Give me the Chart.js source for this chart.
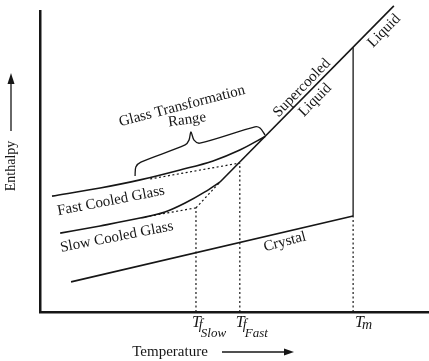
<!DOCTYPE html>
<html>
<head>
<meta charset="utf-8">
<style>
  html, body { margin: 0; padding: 0; background: #fff; }
  canvas { display: block; }
</style>
</head>
<body>
<canvas id="chart" width="429" height="361"></canvas>
<script src="https://cdn.jsdelivr.net/npm/chart.js"></script>
<script>
// values (temperature / enthalpy, arbitrary 0-100 units)
const liquidT = [46.4, 91.2];
const liquidH = [43.2, 101.7];
const liquidExtT = [40.2, 46.4];
const liquidExtH = [34.6, 43.2];

const fastT = [3.1, 15.5, 25.8, 36.1, 44.6, 51.5, 58.0];
const fastH = [38.5, 41.2, 43.9, 47.2, 50.2, 53.8, 58.3];
const fastExtT = [28.4, 51.5];
const fastExtH = [44.2, 49.5];

const slowT = [5.2, 15.5, 25.8, 32.2, 37.4, 42.5, 46.4];
const slowH = [26.2, 28.6, 31.2, 33.2, 36.2, 39.9, 43.2];
const slowExtT = [27.1, 40.2];
const slowExtH = [31.6, 34.6];

const crystalT = [8.0, 80.7];
const crystalH = [10.0, 31.9];

const meltT = [80.7, 80.7];
const meltH = [31.9, 87.9];

const braceT = [24.5, 24.7, 26.0, 37.4, 38.4, 38.9, 39.7, 41.2, 55.4, 56.7, 58.0];
const braceH = [45.2, 48.2, 49.8, 55.5, 57.1, 59.8, 57.1, 56.1, 61.5, 61.1, 58.8];

// tick marks on the temperature axis
const tickT = [40.2, 51.5, 80.7];
const tickTop = [34.6, 49.5, 31.9];
const tickSub = ['f', 'f', 'm'];
const tickSubSub = ['Slow', 'Fast', ''];

const ink = '#161616';
const serif = '"Liberation Serif", "DejaVu Serif", serif';

const pts = (xs, ys) => xs.map((x, i) => ({x: x, y: ys[i]}));

const solid = (data, extra) => Object.assign({
    data: data, borderColor: ink, borderWidth: 1.6, pointRadius: 0,
    showLine: true, fill: false, clip: false
}, extra || {});
const dotted = (data) => solid(data, {borderWidth: 1.2, borderDash: [2, 2.5]});

const datasets = [
    solid(pts(liquidT, liquidH)),
    dotted(pts(liquidExtT, liquidExtH)),
    solid(pts(fastT, fastH), {cubicInterpolationMode: 'monotone'}),
    dotted(pts(fastExtT, fastExtH)),
    solid(pts(slowT, slowH), {cubicInterpolationMode: 'monotone'}),
    dotted(pts(slowExtT, slowExtH)),
    solid(pts(crystalT, crystalH)),
    solid(pts(meltT, meltH), {borderWidth: 1.3}),
    solid(pts(braceT, braceH), {borderWidth: 1.3, tension: 0.3})
];
tickT.forEach((t, i) => datasets.push(dotted([{x: t, y: 0}, {x: t, y: tickTop[i]}])));

const notes = [
    {text: 'Glass Transformation', x: 36.6, y: 68.4, rot: -14.5},
    {text: 'Range', x: 37.9, y: 63.8, rot: -8},
    {text: 'Supercooled', x: 67.5, y: 74.4, rot: -45.7},
    {text: 'Liquid', x: 70.9, y: 70.4, rot: -45.7},
    {text: 'Liquid', x: 88.7, y: 93.4, rot: -45.7},
    {text: 'Fast Cooled Glass', x: 18.3, y: 36.9, rot: -11},
    {text: 'Slow Cooled Glass', x: 19.8, y: 24.9, rot: -11},
    {text: 'Crystal', x: 63.1, y: 23.3, rot: -15}
];

const labelsPlugin = {
    id: 'labels',
    afterDraw(chart) {
        const ctx = chart.ctx;
        const xs = chart.scales.x, ys = chart.scales.y;
        const area = chart.chartArea;
        ctx.save();
        ctx.fillStyle = ink;
        ctx.strokeStyle = ink;
        ctx.textAlign = 'center';
        ctx.textBaseline = 'middle';
        ctx.font = '15px ' + serif;
        notes.forEach(n => {
            ctx.save();
            ctx.translate(xs.getPixelForValue(n.x), ys.getPixelForValue(n.y));
            ctx.rotate(n.rot * Math.PI / 180);
            ctx.fillText(n.text, 0, 0);
            ctx.restore();
        });

        // T labels under the axis
        ctx.textAlign = 'left';
        ctx.textBaseline = 'alphabetic';
        tickT.forEach((t, i) => {
            const px = xs.getPixelForValue(t);
            const off = tickSubSub[i] ? -4 : 2;
            ctx.font = 'italic 16px ' + serif;
            ctx.fillText('T', px + off, area.bottom + 15);
            const tw = ctx.measureText('T').width;
            ctx.font = 'italic 14px ' + serif;
            ctx.fillText(tickSub[i], px + off + tw - 2, area.bottom + 17);
            if (tickSubSub[i]) {
                ctx.font = 'italic 13px ' + serif;
                ctx.fillText(tickSubSub[i], px + off + tw, area.bottom + 25);
            }
        });

        // axis titles with arrows
        ctx.font = '15px ' + serif;
        ctx.textAlign = 'center';
        ctx.textBaseline = 'middle';
        ctx.fillText('Temperature', 170, 352);
        ctx.lineWidth = 1.3;
        ctx.beginPath(); ctx.moveTo(222, 352); ctx.lineTo(286, 352); ctx.stroke();
        ctx.beginPath(); ctx.moveTo(294, 352); ctx.lineTo(284, 348.5); ctx.lineTo(284, 355.5); ctx.closePath(); ctx.fill();

        ctx.save();
        ctx.translate(11, 166);
        ctx.rotate(-Math.PI / 2);
        ctx.font = '14px ' + serif;
        ctx.fillText('Enthalpy', 0, 0);
        ctx.restore();
        ctx.beginPath(); ctx.moveTo(11, 131); ctx.lineTo(11, 82); ctx.stroke();
        ctx.beginPath(); ctx.moveTo(11, 73); ctx.lineTo(7.5, 84); ctx.lineTo(14.5, 84); ctx.closePath(); ctx.fill();
        ctx.restore();
    }
};

const axisOpts = (fit) => ({
    type: 'linear', min: 0, max: 100,
    grid: {display: false, drawTicks: false},
    ticks: {display: false},
    border: {display: true, color: ink, width: 2.5},
    afterFit: fit
});

new Chart(document.getElementById('chart').getContext('2d'), {
    type: 'scatter',
    data: {datasets: datasets},
    options: {
        responsive: false,
        animation: false,
        devicePixelRatio: 1,
        layout: {padding: {left: 40, top: 11, right: 1, bottom: 49}},
        plugins: {legend: {display: false}, tooltip: {enabled: false}},
        scales: {
            x: axisOpts(s => { s.height = 0; }),
            y: axisOpts(s => { s.width = 0; })
        }
    },
    plugins: [labelsPlugin]
});
</script>
</body>
</html>
